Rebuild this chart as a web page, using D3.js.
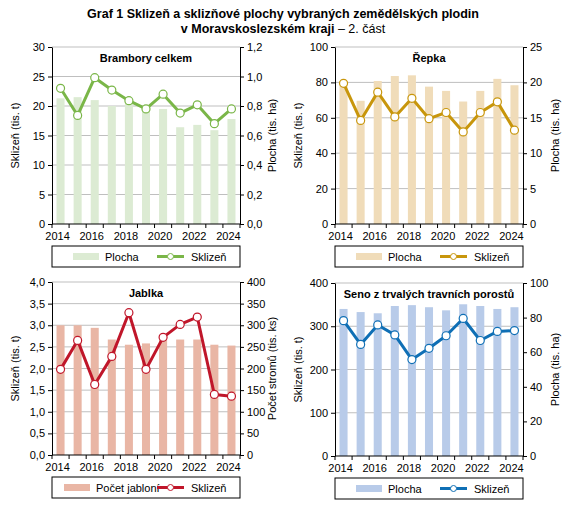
<!DOCTYPE html>
<html><head><meta charset="utf-8">
<script src="https://cdn.jsdelivr.net/npm/d3@7"></script>
<style>body{margin:0;background:#fff}text{font-family:"Liberation Sans",Arial,sans-serif}</style>
</head><body><svg id="c" width="567" height="506"></svg>
<script>
const years = [2014,2015,2016,2017,2018,2019,2020,2021,2022,2023,2024];
const yearLabels = ["2014","2016","2018","2020","2022","2024"];
const bramboryPlocha = [0.852,0.86,0.84,0.80,0.83,0.78,0.78,0.656,0.672,0.636,0.712];
const bramborySklizen = [23.0,18.4,24.8,22.7,20.9,19.5,22.0,18.8,20.2,17.0,19.5];
const repkaPlocha = [20.2,17.4,20.2,20.9,21.0,19.4,18.8,17.3,18.8,20.5,19.6];
const repkaSklizen = [79.5,58.5,74.5,60.5,71,59.5,63,52,63,69,53];
const jablkaPocet = [300,300,294,267,255,258,267,267,267,255,253];
const jablkaSklizen = [1.98,2.65,1.63,2.28,3.29,1.98,2.72,3.02,3.19,1.40,1.36];
const senoPlocha = [85,83.2,82.5,86.7,87.2,86,84.2,87.7,86.7,85,86];
const senoSklizen = [313,258,303,280,223,249,278,318,267,288,290];

const svg = d3.select("#c");
const t = svg.append("text").attr("x",283).attr("y",18).attr("text-anchor","middle").attr("font-size",12.5).attr("font-weight","bold");
t.text("Graf 1 Sklizeň a sklizňové plochy vybraných  zemědělských plodin");
const t2 = svg.append("text").attr("x",283).attr("y",33).attr("text-anchor","middle").attr("font-size",12.5);
t2.append("tspan").attr("font-weight","bold").text("v Moravskoslezském  kraji");
t2.append("tspan").text(" – 2. část");

const fmt1 = d => d3.format(".1f")(d).replace(".",",");
function panel(o){
  const g = svg.append("g");
  const x = d3.scaleBand().domain(years).range([o.x0,o.x1]).paddingInner(0.53).paddingOuter(0.265);
  const yl = d3.scaleLinear().domain([0,o.lmax]).range([o.y1,o.y0]);
  const yr = d3.scaleLinear().domain([0,o.rmax]).range([o.y1,o.y0]);
  // grid
  g.selectAll(".gr").data(yl.ticks(o.lt).filter(d=>d>0)).join("line")
    .attr("x1",o.x0).attr("x2",o.x1).attr("y1",d=>yl(d)).attr("y2",d=>yl(d)).attr("stroke","#bfbfbf");
  g.selectAll(".b").data(o.bars).join("rect")
    .attr("x",(d,i)=>x(years[i])).attr("width",x.bandwidth())
    .attr("y",d=>yr(d)).attr("height",d=>o.y1-yr(d)).attr("fill",o.bc);
  const line = d3.line().x((d,i)=>x(years[i])+x.bandwidth()/2).y(d=>yl(d));
  g.append("path").datum(o.line).attr("d",line).attr("fill","none").attr("stroke",o.lc).attr("stroke-width",3).attr("stroke-linejoin","round");
  g.selectAll(".m").data(o.line).join("circle")
    .attr("cx",(d,i)=>x(years[i])+x.bandwidth()/2).attr("cy",d=>yl(d)).attr("r",4)
    .attr("fill","#fff").attr("stroke",o.lc).attr("stroke-width",1.2);
  // axes
  const la = g.append("g").attr("transform",`translate(${o.x0},0)`)
    .call(d3.axisLeft(yl).ticks(o.lt).tickFormat(o.lf).tickSize(4).tickSizeOuter(0));
  const ra = g.append("g").attr("transform",`translate(${o.x1},0)`)
    .call(d3.axisRight(yr).ticks(o.rt).tickFormat(o.rf).tickSize(4).tickSizeOuter(0));
  const xs = d3.scaleLinear().domain([2014,2024]).range([x(2014)+x.bandwidth()/2-3, x(2024)+x.bandwidth()/2-3]);
  const xa = g.append("g").attr("transform",`translate(0,${o.y1})`);
  xa.append("line").attr("x1",o.x0).attr("x2",o.x1).attr("stroke","#000");
  xa.selectAll("text").data(yearLabels).join("text").attr("x",d=>xs(+d)).attr("y",16)
    .attr("text-anchor","middle").attr("font-size",11).text(d=>d);
  xa.selectAll(".tk").data(d3.range(0,12)).join("line").attr("x1",d=>o.x0+d*(o.x1-o.x0)/11).attr("x2",d=>o.x0+d*(o.x1-o.x0)/11).attr("y1",0).attr("y2",4).attr("stroke","#000");
  [la,ra].forEach(a=>{a.selectAll("text").attr("font-size",11).attr("fill","#000");a.select(".domain").attr("stroke","#000");a.selectAll("line").attr("stroke","#000");});
  g.append("text").attr("x",(o.x0+o.x1)/2).attr("y",o.y0+15).attr("text-anchor","middle").attr("font-size",11).attr("font-weight","bold").text(o.title);
  g.append("text").attr("transform",`translate(${o.x0-33},${(o.y0+o.y1)/2}) rotate(-90)`).attr("text-anchor","middle").attr("font-size",11).text("Sklizeň (tis. t)");
  g.append("text").attr("transform",`translate(${o.x1+36},${(o.y0+o.y1)/2}) rotate(-90)`).attr("text-anchor","middle").attr("font-size",11).text(o.rtitle);
  // legend
  const ly = o.y1+22;
  g.append("rect").attr("x",o.x0).attr("y",ly).attr("width",o.x1-o.x0).attr("height",21).attr("fill","none").attr("stroke","#000");
  g.append("rect").attr("x",o.x0+o.lgx).attr("y",ly+7).attr("width",26).attr("height",7).attr("fill",o.bc);
  g.append("text").attr("x",o.x0+o.lgx+32).attr("y",ly+15).attr("font-size",11).text(o.bname);
  const lx = o.x0+105;
  g.append("line").attr("x1",lx).attr("x2",lx+27).attr("y1",ly+10.5).attr("y2",ly+10.5).attr("stroke",o.lc).attr("stroke-width",3);
  g.append("circle").attr("cx",lx+13.5).attr("cy",ly+10.5).attr("r",3).attr("fill","#fff").attr("stroke",o.lc);
  g.append("text").attr("x",lx+34).attr("y",ly+15).attr("font-size",11).text("Sklizeň");
}
const f0 = d=>d;
panel({x0:52,x1:240,y0:47,y1:224,lmax:30,lt:6,lf:f0,rmax:1.2,rt:6,rf:fmt1,bars:bramboryPlocha,line:bramborySklizen,bc:"#dcebd3",lc:"#7ab648",title:"Brambory celkem",rtitle:"Plocha (tis. ha)",bname:"Plocha",lgx:21});
panel({x0:335,x1:523,y0:47,y1:224,lmax:100,lt:5,lf:f0,rmax:25,rt:5,rf:f0,bars:repkaPlocha,line:repkaSklizen,bc:"#f0dcb9",lc:"#c8960c",title:"Řepka",rtitle:"Plocha (tis. ha)",bname:"Plocha",lgx:21});
panel({x0:52,x1:240,y0:282,y1:455,lmax:4,lt:8,lf:fmt1,rmax:400,rt:8,rf:f0,bars:jablkaPocet,line:jablkaSklizen,bc:"#e9b6a5",lc:"#c0162a",title:"Jablka",rtitle:"Počet stromů (tis. ks)",bname:"Počet jabloní",lgx:12});
panel({x0:335,x1:523,y0:283,y1:456,lmax:400,lt:4,lf:f0,rmax:100,rt:4,rf:f0,bars:senoPlocha,line:senoSklizen,bc:"#b8cbe9",lc:"#0f6fb5",title:"Seno z trvalých travních porostů",rtitle:"Plocha (tis. ha)",bname:"Plocha",lgx:21});
</script></body></html>
